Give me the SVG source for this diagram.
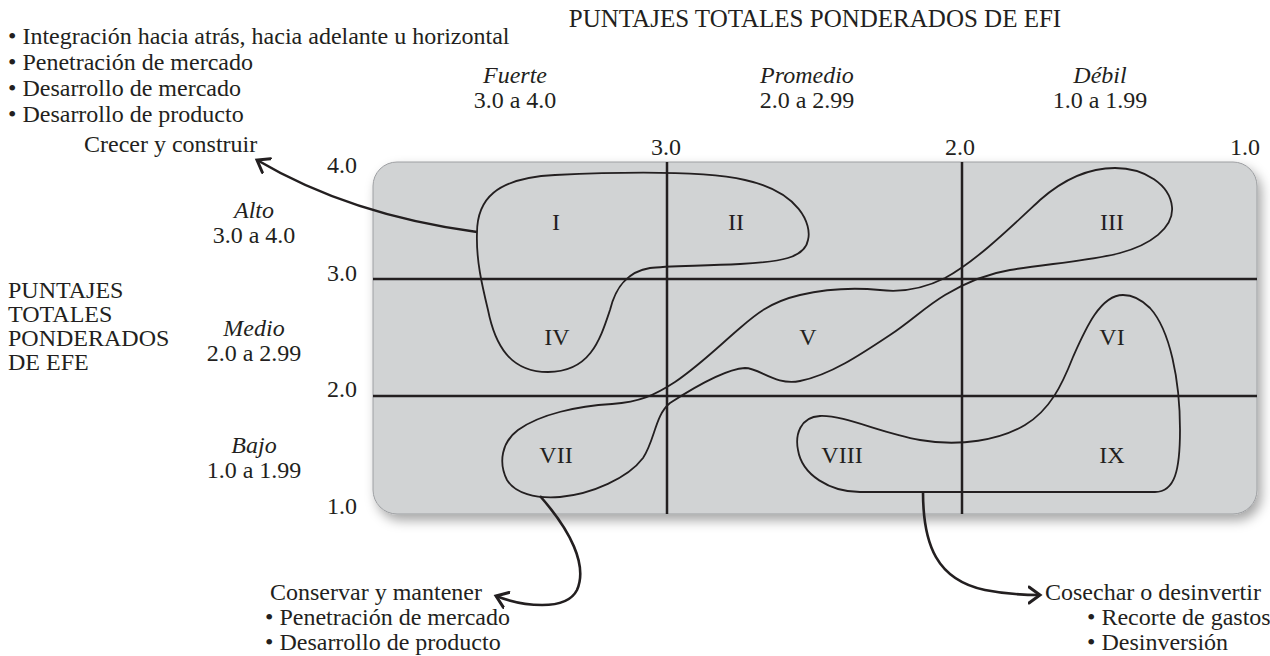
<svg xmlns="http://www.w3.org/2000/svg" width="1270" height="656" viewBox="0 0 1270 656">
<style>
text{font-family:"Liberation Serif","Times New Roman",serif;font-size:24px;fill:#231f20}
.it{font-style:italic}
.c{text-anchor:middle}
.ttl{font-size:25px}
.grid{stroke:#231f20;stroke-width:2.5;fill:none}
.blob{stroke:#231f20;stroke-width:1.8;fill:none}
.conn{stroke:#231f20;stroke-width:2.6;fill:none}
</style>
<defs>
<filter id="sh" x="-5%" y="-5%" width="115%" height="125%">
<feDropShadow dx="4" dy="6" stdDeviation="6" flood-color="#000" flood-opacity="0.35"/>
</filter>
<marker id="ah" markerUnits="userSpaceOnUse" markerWidth="24" markerHeight="24" refX="12" refY="12" orient="auto" viewBox="0 0 24 24">
<path d="M1,4 L12,12 L1,20" fill="none" stroke="#231f20" stroke-width="3" stroke-linecap="round" stroke-linejoin="miter"/>
</marker>
</defs>
<rect width="1270" height="656" fill="#fff"/>

<g id="title-efi">
<text class="c ttl" x="815" y="27">PUNTAJES TOTALES PONDERADOS DE EFI</text>
</g>
<g id="strategies-grow">
<text x="8" y="44">• Integración hacia atrás, hacia adelante u horizontal</text>
<text x="8" y="70">• Penetración de mercado</text>
<text x="8" y="96">• Desarrollo de mercado</text>
<text x="8" y="122">• Desarrollo de producto</text>
<text x="84" y="152">Crecer y construir</text>
</g>
<g id="col-labels">
<text class="c it" x="515" y="83">Fuerte</text>
<text class="c" x="515" y="108">3.0 a 4.0</text>
<text class="c it" x="807" y="83">Promedio</text>
<text class="c" x="807" y="108">2.0 a 2.99</text>
<text class="c it" x="1100" y="83">Débil</text>
<text class="c" x="1100" y="108">1.0 a 1.99</text>
<text class="c" x="666" y="155">3.0</text>
<text class="c" x="960" y="155">2.0</text>
<text class="c" x="1245" y="155">1.0</text>
</g>
<g id="title-efe">
<text x="8" y="298">PUNTAJES</text>
<text x="8" y="322">TOTALES</text>
<text x="8" y="346">PONDERADOS</text>
<text x="8" y="370">DE EFE</text>
</g>
<g id="row-labels">
<text class="c it" x="254" y="218">Alto</text>
<text class="c" x="254" y="243">3.0 a 4.0</text>
<text class="c it" x="254" y="336">Medio</text>
<text class="c" x="254" y="361">2.0 a 2.99</text>
<text class="c it" x="254" y="453">Bajo</text>
<text class="c" x="254" y="478">1.0 a 1.99</text>
<text class="c" x="342" y="173">4.0</text>
<text class="c" x="342" y="281">3.0</text>
<text class="c" x="342" y="397">2.0</text>
<text class="c" x="342" y="514">1.0</text>
</g>

<g id="matrix">
<rect x="373" y="162" width="884" height="352" rx="24" ry="24" fill="#d1d3d4" stroke="#9d9fa2" stroke-width="1" filter="url(#sh)"/>
<line class="grid" x1="667" y1="162" x2="667" y2="514"/>
<line class="grid" x1="962" y1="162" x2="962" y2="514"/>
<line class="grid" x1="373" y1="279" x2="1257" y2="279"/>
<line class="grid" x1="373" y1="396" x2="1257" y2="396"/>
</g>

<g id="cells">
<text class="c" x="556" y="230">I</text>
<text class="c" x="736" y="230">II</text>
<text class="c" x="1112" y="230">III</text>
<text class="c" x="557" y="345">IV</text>
<text class="c" x="808" y="345">V</text>
<text class="c" x="1112" y="345">VI</text>
<text class="c" x="556" y="463">VII</text>
<text class="c" x="842" y="463">VIII</text>
<text class="c" x="1112" y="463">IX</text>
</g>

<g id="region-grow">
<path class="blob" d="M477,233 C477,200 495,178 555,175 C620,172 700,170 745,180 C800,192 812,225 808,240 C805,258 780,262 740,264 C700,266 665,266 650,268 C625,272 615,290 610,310 C600,340 590,372 548,372 C510,372 495,345 488,310 C482,285 476,260 477,233 Z"/>
</g>
<g id="region-hold">
<path class="blob" d="M507,480 C498,462 502,442 518,430 C540,414 578,406 612,404 C640,402 655,395 675,382 C700,365 720,345 740,328 C755,315 770,302 800,295 C830,288 860,288 880,290 C905,293 925,288 945,278 C975,262 1010,228 1040,200 C1065,178 1090,168 1115,168 C1145,168 1170,185 1172,207 C1174,228 1150,245 1120,253 C1090,261 1045,264 1010,270 C985,274 965,283 945,295 C925,307 910,322 890,335 C860,355 830,375 800,381 C775,386 760,368 745,368 C725,369 690,390 670,403 C655,415 655,440 643,458 C628,478 592,494 560,497 C535,499 515,493 507,480 Z"/>
</g>
<g id="region-harvest">
<path class="blob" d="M1123,295 C1100,295 1085,330 1073,357 C1062,385 1050,410 1025,425 C1000,440 960,447 920,440 C880,433 845,415 820,416 C800,417 795,435 798,450 C802,475 830,492 860,492 L1155,492 C1175,492 1180,470 1180,430 C1180,380 1170,330 1150,308 C1142,300 1132,295 1123,295 Z"/>
</g>

<g id="connectors">
<path class="conn" d="M477,232 Q350,215 257,160" marker-end="url(#ah)"/>
<path class="conn" d="M540,496 C570,530 588,565 577,590 C566,612 522,606 496,596" marker-end="url(#ah)"/>
<path class="conn" d="M923,492 C923,545 937,580 985,590 C1005,594 1022,595 1040,595" marker-end="url(#ah)"/>
</g>

<g id="label-hold">
<text x="270" y="600">Conservar y mantener</text>
<text x="265" y="625">• Penetración de mercado</text>
<text x="265" y="650">• Desarrollo de producto</text>
</g>
<g id="label-harvest">
<text x="1045" y="600">Cosechar o desinvertir</text>
<text x="1087" y="625">• Recorte de gastos</text>
<text x="1087" y="650">• Desinversión</text>
</g>
</svg>
